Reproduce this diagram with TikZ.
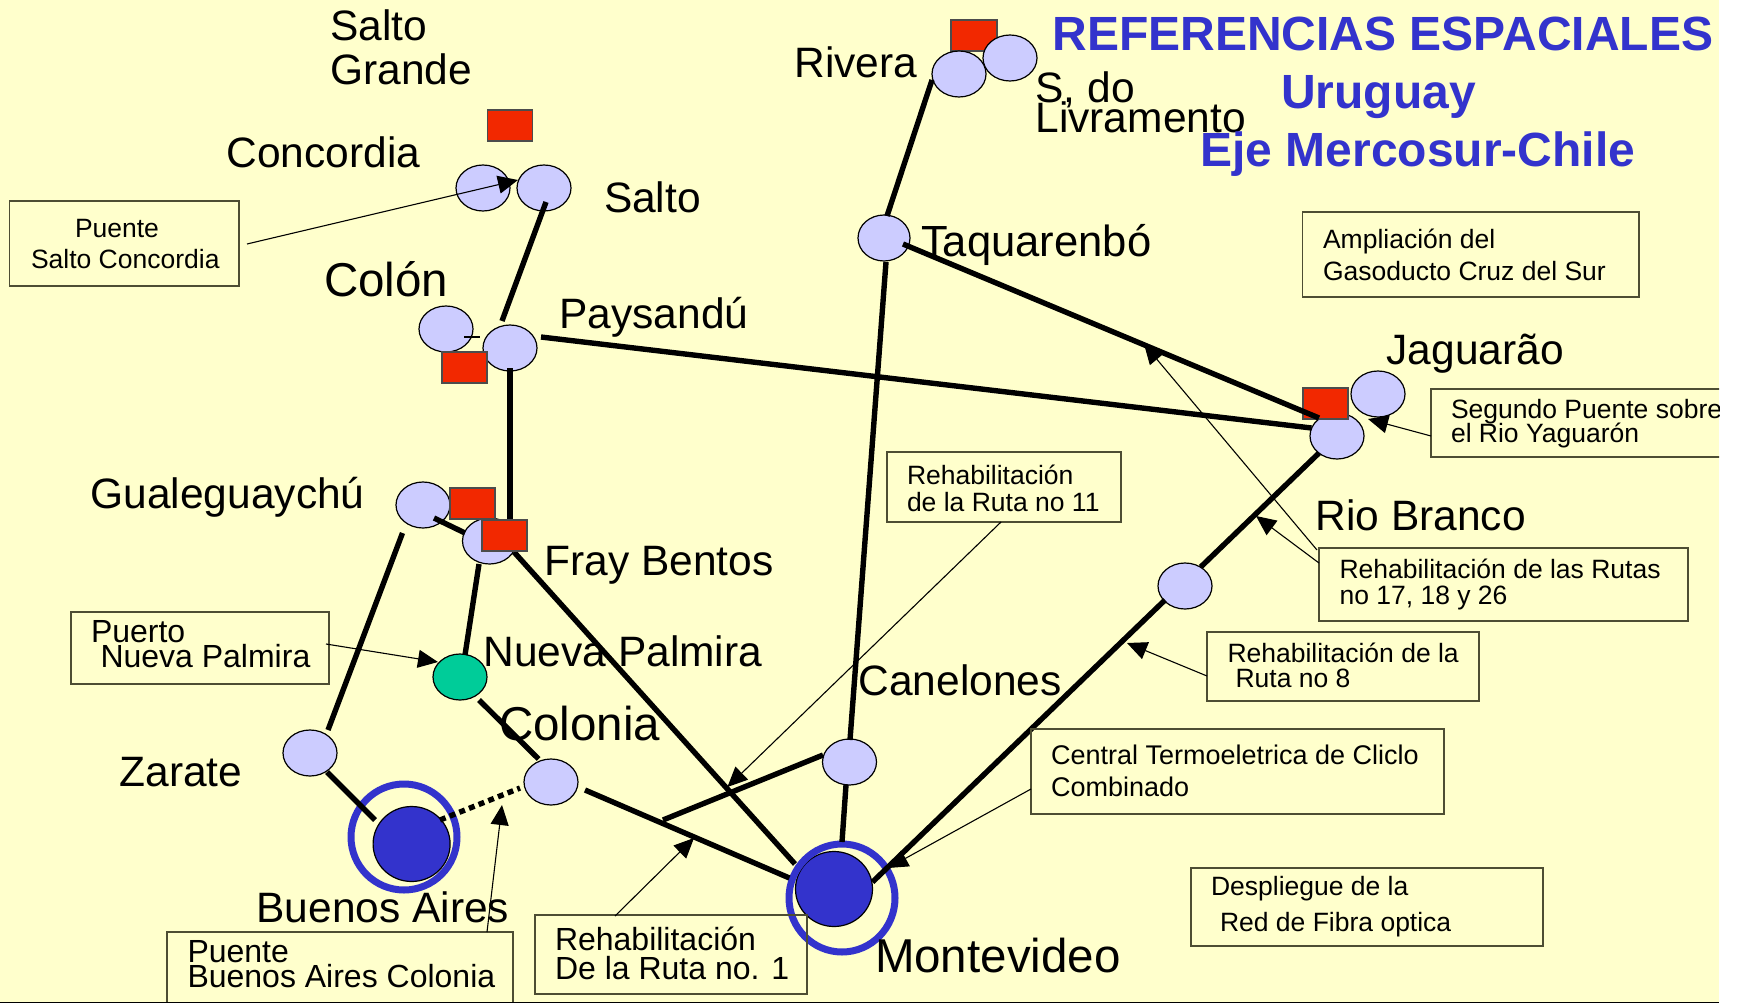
\documentclass[tikz,border=0pt]{standalone}
\usepackage{fontspec}
\setmainfont{Liberation Sans}
\usetikzlibrary{shapes.geometric,arrows.meta}
\definecolor{paper}{HTML}{FFFFCC}
\definecolor{lav}{HTML}{CCCCFF}
\definecolor{redb}{HTML}{F22800}
\definecolor{bluec}{HTML}{3333CC}
\definecolor{greenc}{HTML}{00CC99}
\definecolor{boxline}{HTML}{4D4D33}
\tikzset{
  city/.style={ellipse,draw=black,line width=1.2pt,fill=lav,minimum width=54pt,minimum height=46pt,inner sep=0pt,outer sep=0pt},
  port/.style={city,fill=greenc},
  capital/.style={ellipse,draw=black,line width=1.2pt,fill=bluec,inner sep=0pt,outer sep=0pt,minimum width=77pt,minimum height=75pt},
  ring/.style={ellipse,draw=bluec,line width=7pt,inner sep=0pt,outer sep=0pt},
  dam/.style={rectangle,draw=black!70,line width=1.5pt,fill=redb,minimum width=45pt,minimum height=31pt,inner sep=0pt,outer sep=0pt},
  note/.style={rectangle,draw=boxline,line width=1.5pt,inner sep=0pt,outer sep=0pt},
  road/.style={line width=5.4pt,black},
  ferry/.style={road,dash pattern=on 6pt off 4.4pt},
  leader/.style={line width=1.1pt,black,-{Triangle[length=20pt,width=18pt]}},
  thinline/.style={line width=1.1pt,black},
  place/.style={anchor=base west,inner sep=0pt,outer sep=0pt,font=\fontsize{42.5}{42.5}\selectfont},
  placew/.style={place,font=\fontsize{43.6}{43.6}\selectfont},
  placeb/.style={place,font=\fontsize{47.5}{47.5}\selectfont},
  small/.style={anchor=base west,inner sep=0pt,outer sep=0pt,font=\fontsize{26.5}{26.5}\selectfont},
  wider/.style={small,font=\fontsize{27}{27}\selectfont},
  big/.style={small,font=\fontsize{32}{32}\selectfont},
  headline/.style={anchor=base west,inner sep=0pt,outer sep=0pt,text=bluec,font=\fontsize{48}{48}\selectfont\bfseries},
}
\begin{document}
\begin{tikzpicture}[x=1pt,y=-1pt]
\useasboundingbox (0,0) rectangle (1739,1003);
\fill[white] (0,0) rectangle (1739,1003);
\fill[paper] (0,0) rectangle (1719,1001.5);
\fill[black] (0,1001.5) rectangle (1719,1003);
\begin{scope}
\clip (0,0) rectangle (1719,1001.5);

% dam behind the circles at Rivera
\node[dam,minimum width=46pt] (damR) at (974,35.5) {};

% cities
\node[city] (conc) at (483,188) {};
\node[city] (salto) at (544,188) {};
\node[city] (colon) at (446,329) {};
\node[city] (pay) at (510,348) {};
\node[city] (gua) at (423,505) {};
\node[city] (fray) at (489.5,541) {};
\node[port] (np) at (460,677) {};
\node[city] (zar) at (310,753) {};
\node[city] (col) at (551,782) {};
\node[city] (can) at (849.5,762) {};
\node[city] (riv) at (959,74) {};
\node[city] (liv) at (1010,58) {};
\node[city,minimum width=52pt] (taq) at (884,238) {};
\node[city] (jag) at (1378,394) {};
\node[city] (jagb) at (1337,436) {};
\node[city] (rb) at (1185,586) {};
\node[capital] (ba) at (411.6,844) {};
\node[ring,minimum width=106pt,minimum height=106pt] (baring) at (404,837) {};
\node[capital] (mvd) at (834,889) {};
\node[ring,minimum width=106pt,minimum height=108pt] (mvdring) at (842,898) {};

% dam at Jaguarao (roads run over it)
\node[dam] (damJ) at (1325.5,403.5) {};

% roads
\draw[road] ([shift={(2,14)}]salto.center) -- ([shift={(-8,-27)}]pay.center);
\draw[road] ([shift={(31,-11)}]pay.center) -- ([shift={(-25.5,-8)}]jagb.center);
\draw[road] ([shift={(0,20)}]pay.center) -- ([shift={(20.5,-21)}]fray.center);
\draw[road] ([shift={(11,13)}]gua.center) -- ([shift={(-24.5,-8)}]fray.center);
\draw[road] ([shift={(-20.5,28)}]gua.center) -- ([shift={(18,-23)}]zar.center);
\draw[road] ([shift={(17,19)}]zar.center) -- ([shift={(-36.6,-24)}]ba.center);
\draw[road] ([shift={(-10.5,23)}]fray.center) -- ([shift={(5,-22)}]np.center);
\draw[road] ([shift={(19,23)}]np.center) -- ([shift={(-12.4,-23)}]col.center);
\draw[road] ([shift={(34,8)}]col.center) -- ([shift={(-44.6,-11)}]mvd.center);
\draw[road] ([shift={(24.5,11)}]fray.center) -- ([shift={(-39,-25)}]mvd.center);
\draw[road] ([shift={(-3.5,23)}]can.center) -- ([shift={(8,-47)}]mvd.center);
\draw[road] ([shift={(.5,-22)}]can.center) -- ([shift={(2,24)}]taq.center);
\coordinate (branch) at (663,820);
\draw[road] ([shift={(-26.5,-7)}]can.center) -- (branch);
\draw[road] ([shift={(3,-22)}]taq.center) -- ([shift={(-27,6)}]riv.center);
\draw[road] ([shift={(19,6)}]taq.center) -- ([shift={(-18,-18)}]jagb.center);
\draw[road] ([shift={(-18,17)}]jagb.center) -- ([shift={(15.7,-19)}]rb.center);
\draw[road] ([shift={(-20,14)}]rb.center) -- ([shift={(38.5,-7)}]mvd.center);
\draw[ferry] ([shift={(28.4,-24)}]ba.center) -- ([shift={(-31,6)}]col.center);
\draw[thinline] ([shift={(18,8)}]colon.center) -- ([shift={(34,8)}]colon.center);

% dams on top
\node[dam] (damS) at (510,125.5) {};
\node[dam] (damC) at (464.5,367.5) {};
\node[dam] (damG) at (472.5,503.5) {};
\node[dam] (damF) at (504.5,535.5) {};

% note boxes
\node[note,minimum width=229.5pt,minimum height=85pt] (nSC) at (124.25,243.5) {};
\node[note,minimum width=258pt,minimum height=72pt] (nNP) at (200,648) {};
\node[note,minimum width=346pt,minimum height=80pt] (nBA) at (340,972) {};
\node[note,minimum width=272pt,minimum height=79pt] (nR1) at (671,954.5) {};
\node[note,minimum width=234pt,minimum height=70pt] (nR11) at (1004,487) {};
\node[note,minimum width=369pt,minimum height=73pt] (nRR) at (1503.5,584.5) {};
\node[note,minimum width=272pt,minimum height=69pt] (nR8) at (1343,666.5) {};
\node[note,minimum width=413pt,minimum height=85pt] (nCT) at (1237.5,771.5) {};
\node[note,minimum width=336.5pt,minimum height=85pt] (nGas) at (1470.75,254.5) {};
\node[note,minimum width=352pt,minimum height=78pt] (nFib) at (1367,907) {};
\node[note,minimum width=339pt,minimum height=68pt] (nSeg) at (1600.5,423) {};

% leaders
\coordinate (tipBA) at (502,805);
\coordinate (tipR1) at (694,838);
\coordinate (tipR11) at (727.4,787);
\coordinate (tipRa) at (1256,516);
\coordinate (tipRb) at (1144,344);
\coordinate (tipR8) at (1127,643);
\coordinate (tipCT) at (888,868);
\draw[leader] ([shift={(122.75,.5)}]nSC.center) -- ([shift={(-26,-8)}]salto.center);
\draw[leader] ([shift={(126,-4)}]nNP.center) -- ([shift={(-22,-15)}]np.center);
\draw[leader] ([shift={(147,-40)}]nBA.center) -- (tipBA);
\draw[leader] ([shift={(-56,-38.5)}]nR1.center) -- (tipR1);
\draw[leader] ([shift={(-3,35)}]nR11.center) -- (tipR11);
\draw[leader] ([shift={(-184.5,-21.5)}]nRR.center) -- (tipRa);
\draw[leader] ([shift={(-186.5,-34.5)}]nRR.center) -- (tipRb);
\draw[leader] ([shift={(-136,9.5)}]nR8.center) -- (tipR8);
\draw[leader] ([shift={(-206.5,17.5)}]nCT.center) -- (tipCT);
\draw[leader] ([shift={(-169.5,13)}]nSeg.center) -- ([shift={(-10,25)}]jag.center);

% place names
\node[place] (tSalto1) at (330.5,41) {Salto};
\node[place] (tSalto2) at (330.5,85) {Grande};
\node[place] (tConc) at (226.5,167.5) {Concordia};
\node[place] (tSalto) at (604,212) {Salto};
\node[placeb] (tColon) at (324,296) {Colón};
\node[place] (tPay) at (559.5,328) {Paysandú};
\node[place] (tGua) at (90.5,508) {Gualeguaychú};
\node[place] (tFray) at (544.5,575) {Fray Bentos};
\node[place] (tNP) at (483.5,666) {Nueva Palmira};
\node[placeb] (tCol) at (499,740) {Colonia};
\node[place] (tZar) at (119.5,786) {Zarate};
\node[place] (tBA) at (256.5,922) {Buenos Aires};
\node[place] (tCan) at (858.5,695) {Canelones};
\node[placeb] (tMvd) at (875,972) {Montevideo};
\node[place] (tRiv) at (794.5,77.5) {Rivera};
\node[place] (tLiv1) at (1035.5,103) {S, do};
\node[place] (tLiv2) at (1035.5,133) {Livramento};
\node[placew] (tTaq) at (921,256) {Taquarenbó};
\node[place] (tJag) at (1386.5,364) {Jaguarão};
\node[place] (tRB) at (1315.5,530) {Rio Branco};

% headline
\node[headline] (h1) at (1052.5,51) {REFERENCIAS ESPACIALES};
\node[headline] (h2) at (1281,109) {Uruguay};
\node[headline] (h3) at (1200.5,167) {Eje Mercosur-Chile};

% note texts
\node[small] (a1) at (75,237) {Puente};
\node[small] (a2) at (31,268) {Salto Concordia};
\node[big] (b1) at (91,642) {Puerto};
\node[big] (b2) at (100.5,667) {Nueva Palmira};
\node[big] (c1) at (187.5,962) {Puente};
\node[big] (c2) at (187.5,987) {Buenos Aires Colonia};
\node[big] (d1) at (555,950) {Rehabilitación};
\node[big] (d2) at (555,979) {De la Ruta no. 1};
\node[small] (e1) at (907,484) {Rehabilitación};
\node[small] (e2) at (907,511) {de la Ruta no 11};
\node[small] (f1) at (1339.5,578) {Rehabilitación de las Rutas};
\node[small] (f2) at (1339.5,604) {no 17, 18 y 26};
\node[small] (g1) at (1227.5,662) {Rehabilitación de la};
\node[small] (g2) at (1235.5,687) {Ruta no 8};
\node[wider] (i1) at (1051,764) {Central Termoeletrica de Cliclo};
\node[wider] (i2) at (1051,796.5) {Combinado};
\node[small] (j1) at (1323,248) {Ampliación del};
\node[small] (j2) at (1323,280) {Gasoducto Cruz del Sur};
\node[small] (k1) at (1211,895) {Despliegue de la};
\node[small] (k2) at (1220,931.5) {Red de Fibra optica};
\node[small] (m1) at (1451,418) {Segundo Puente sobre};
\node[small] (m2) at (1451,442) {el Rio Yaguarón};
\end{scope}
\end{tikzpicture}
\end{document}
